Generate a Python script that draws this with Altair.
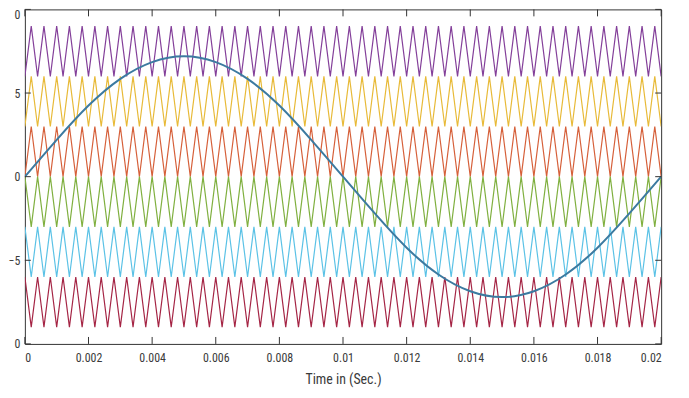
import altair as alt
import pandas as pd

# ---- data ----
carrier_names = ["c1", "c2", "c3", "c4", "c5", "c6"]
carrier_low = [6, 3, 0, -3, -6, -9]
carrier_high = [9, 6, 3, 0, -3, -6]
carrier_start = ["low", "low", "low", "high", "high", "high"]
carrier_colors = ["#84409A", "#E8BA38", "#D6603A", "#80B040", "#5BC2E6", "#A52545"]
carrier_periods = 50
t_end = 0.02

sine_t = [0.0, 0.001, 0.002, 0.003, 0.004, 0.005, 0.006, 0.007, 0.008, 0.009, 0.010,
          0.011, 0.012, 0.013, 0.014, 0.015, 0.016, 0.017, 0.018, 0.019, 0.020]
sine_v = [0.0, 2.2, 4.25, 5.85, 6.85, 7.2, 6.85, 5.85, 4.25, 2.2, 0.0,
          -2.2, -4.25, -5.85, -6.85, -7.2, -6.85, -5.85, -4.25, -2.2, 0.0]

x_ticks = [0, 0.002, 0.004, 0.006, 0.008, 0.01, 0.012, 0.014, 0.016, 0.018, 0.02]
y_ticks = [-10, -5, 0, 5, 10]

# ---- build tables ----
rows = []
half = t_end / (2 * carrier_periods)
for name, lo, hi, st in zip(carrier_names, carrier_low, carrier_high, carrier_start):
    for k in range(2 * carrier_periods + 1):
        first = lo if st == "low" else hi
        second = hi if st == "low" else lo
        rows.append({"t": k * half, "v": first if k % 2 == 0 else second, "carrier": name})
carriers = pd.DataFrame(rows)
sine = pd.DataFrame({"t": sine_t, "v": sine_v})
xt = pd.DataFrame({"t": x_ticks})
yt = pd.DataFrame({"v": y_ticks})

W, H = 641, 337
FONT = "'Liberation Sans Narrow', 'Arial Narrow', 'Roboto Condensed', Roboto, sans-serif"
xs = alt.Scale(domain=[0, 0.02], nice=False, zero=False)
ys = alt.Scale(domain=[-10, 10], nice=False, zero=False)

carrier_layer = alt.Chart(carriers).mark_line(strokeWidth=1.2, clip=True).encode(
    x=alt.X("t:Q", scale=xs,
            axis=alt.Axis(values=x_ticks, format="~g", title="Time in (Sec.)",
                          ticks=False, tickSize=0, domain=False, grid=False,
                          labelPadding=9, titlePadding=9)),
    y=alt.Y("v:Q", scale=ys,
            axis=alt.Axis(values=y_ticks, title=None, ticks=False, tickSize=0,
                          domain=False, grid=False, labelPadding=5,
                          labelExpr="abs(datum.value) == 10 ? '0' : datum.label",
                          labelBaseline={"condition": {"test": "datum.value == 10", "value": "top"},
                                         "value": "middle"})),
    color=alt.Color("carrier:N", scale=alt.Scale(domain=carrier_names, range=carrier_colors),
                    legend=None),
    detail="carrier:N",
)

sine_layer = alt.Chart(sine).mark_line(strokeWidth=2, color="#3C7AA0",
                                       interpolate="natural", clip=True).encode(
    x=alt.X("t:Q", scale=xs), y=alt.Y("v:Q", scale=ys))

tick_col = "#333333"
tb = alt.Chart(xt).mark_rule(color=tick_col, strokeWidth=1).encode(
    x=alt.X("t:Q", scale=xs), y=alt.value(H), y2=alt.value(H - 7))
tt = alt.Chart(xt).mark_rule(color=tick_col, strokeWidth=1).encode(
    x=alt.X("t:Q", scale=xs), y=alt.value(0), y2=alt.value(7))
tl = alt.Chart(yt).mark_rule(color=tick_col, strokeWidth=1).encode(
    y=alt.Y("v:Q", scale=ys), x=alt.value(0), x2=alt.value(6))
tr = alt.Chart(yt).mark_rule(color=tick_col, strokeWidth=1).encode(
    y=alt.Y("v:Q", scale=ys), x=alt.value(W), x2=alt.value(W - 6))

chart = alt.layer(carrier_layer, sine_layer, tb, tt, tl, tr).properties(
    width=W, height=H,
    autosize=alt.AutoSizeParams(type="none"),
    padding={"left": 17, "top": 0, "right": 20, "bottom": 45},
    background="white",
).configure_view(
    stroke="#333333", strokeWidth=1
).configure_axis(
    labelFont=FONT, titleFont=FONT, labelFontSize=12, titleFontSize=14,
    labelColor="#3a3a3a", titleColor="#3a3a3a", titleFontWeight="normal",
)

chart.save("out.html", embed_options={"renderer": "svg", "actions": False})
